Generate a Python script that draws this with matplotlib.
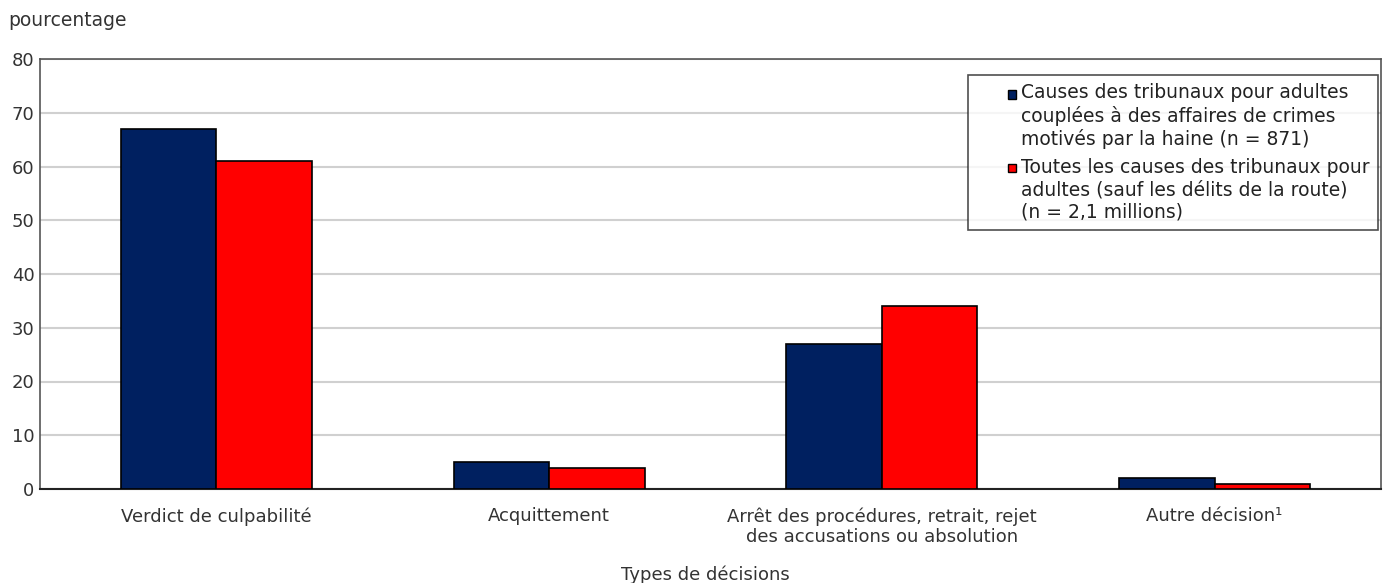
import numpy as np
import matplotlib
matplotlib.use('Agg')
import matplotlib.pyplot as plt
from matplotlib.patches import Patch, Rectangle
from matplotlib.legend_handler import HandlerPatch

plt.rcParams['font.family'] = ['DejaVu Sans']

# données
categories = ['Verdict de culpabilité', 'Acquittement',
              'Arrêt des procédures, retrait, rejet\ndes accusations ou absolution',
              'Autre décision¹']
haine = [67, 5, 27, 2]
toutes = [61, 4, 34, 1]
series_labels = ['Causes des tribunaux pour adultes\ncouplées à des affaires de crimes\nmotivés par la haine (n = 871)',
                 'Toutes les causes des tribunaux pour\nadultes (sauf les délits de la route)\n(n = 2,1 millions)']
yticks = [0, 10, 20, 30, 40, 50, 60, 70, 80]

navy = '#002060'
rouge = '#FF0000'
txt = '#333333'
fs = 13


class TopSquare(HandlerPatch):
    # petit carré aligné sur la première ligne du libellé, collé au texte
    def create_artists(self, legend, orig_handle, xdescent, ydescent,
                       width, height, fontsize, trans):
        side = 0.45 * fontsize
        shift = 1.2 * fontsize
        x0 = -xdescent + width - side
        y0 = -ydescent + (height - side) / 2 + shift
        r = Rectangle((x0, y0), side, side, facecolor=orig_handle.get_facecolor(),
                      edgecolor='black', linewidth=1.0, transform=trans)
        return [r]


fig = plt.figure(figsize=(13.88, 5.83), dpi=100)
ax = fig.add_axes([40 / 1388, (583 - 489) / 583, (1381 - 40) / 1388, (489 - 59) / 583])

x = np.arange(len(categories))
w = 0.287
ax.bar(x - w / 2, haine, w, color=navy, edgecolor='black', linewidth=1.2, zorder=3)
ax.bar(x + w / 2, toutes, w, color=rouge, edgecolor='black', linewidth=1.2, zorder=3)

ax.set_xlim(-0.53, 3.5)
ax.set_ylim(0, 80)
ax.set_yticks(yticks)
ax.set_yticklabels([str(t) for t in yticks], fontsize=fs, color=txt)
ax.set_xticks(x)
ax.set_xticklabels(categories, fontsize=fs, color=txt, linespacing=1.2)
ax.tick_params(axis='both', length=0)
ax.tick_params(axis='y', pad=4)
ax.tick_params(axis='x', pad=13)
ax.yaxis.grid(True, color='#d0d0d0', linewidth=1.5, zorder=0)
ax.set_axisbelow(True)

for s in ['left', 'top', 'right']:
    ax.spines[s].set_color('#555555')
    ax.spines[s].set_linewidth(1.2)
ax.spines['bottom'].set_color('#222222')
ax.spines['bottom'].set_linewidth(1.5)

fig.text(8 / 1388, 1 - 20 / 583, 'pourcentage', fontsize=13.5, color=txt, va='center', ha='left')
fig.text(705 / 1388, 1 - 575 / 583, 'Types de décisions', fontsize=fs, color=txt, va='center', ha='center')

handles = [Patch(facecolor=navy), Patch(facecolor=rouge)]
leg = ax.legend(handles, series_labels, loc='upper right', bbox_to_anchor=(0.9978, 0.963),
                borderaxespad=0, fontsize=13.5, frameon=True, fancybox=False,
                handlelength=2.1, handleheight=0.6, handletextpad=0.25,
                labelspacing=0.5, borderpad=0.45, labelcolor='#222222',
                handler_map={Patch: TopSquare()})
leg.get_frame().set_edgecolor('#222222')
leg.get_frame().set_linewidth(1.2)
for t in leg.get_texts():
    t.set_linespacing(1.2)

fig.savefig('out.png', dpi=100)
